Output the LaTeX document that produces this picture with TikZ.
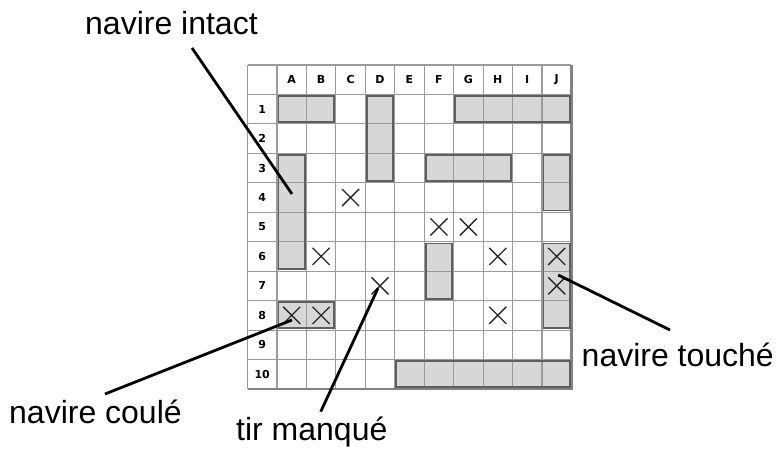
\documentclass[tikz,border=0pt]{standalone}
\usepackage{fontspec}
\setmainfont{Liberation Sans}
\newfontfamily\gridfont{DejaVu Sans}
\definecolor{gridgray}{RGB}{155,155,155}
\definecolor{framegray}{RGB}{130,130,130}
\definecolor{shipfill}{RGB}{215,215,215}
\definecolor{shipedge}{RGB}{95,95,95}
\definecolor{crossgray}{RGB}{40,40,40}
\begin{document}
\begin{tikzpicture}[x=1pt,y=-1pt,
  gridline/.style={gridgray,line width=1.1pt},
  shipbox/.style={shipedge,line width=1.8pt},
  shot/.style={crossgray,line width=1.3pt},
  headlbl/.style={inner sep=0pt,font=\gridfont\bfseries\fontsize{11}{13}\selectfont},
  callout/.style={inner sep=0pt,anchor=base west,font=\fontsize{32}{38}\selectfont},
  leader/.style={black,line width=2.8pt}]
\useasboundingbox (0,0) rectangle (778,449);
\def\shiplist{1/1/2/1, 4/1/1/3, 7/1/4/1, 1/3/1/4, 6/3/3/1, 10/3/1/2, 6/6/1/2, 10/6/1/3, 1/8/2/1, 5/10/6/1}
\begin{scope}[shift={(247.5,65)},x=29.45pt,y=-29.45pt]
 % ships, filled under the grid
 \foreach \c/\r/\w/\h in \shiplist
    \fill[shipfill] (\c+0.05,\r+0.06) rectangle (\c+\w-0.05,\r+\h-0.06);
 % grid
 \foreach \i in {0,...,11} {
    \draw[gridline] (\i,0) -- (\i,11);
    \draw[gridline] (0,\i) -- (11,\i);
 }
 \draw[framegray,line width=2.2pt] (0,11) -- (11,11) -- (11,0);
 \foreach \c/\r/\w/\h in \shiplist
    \draw[shipbox] (\c+0.05,\r+0.06) rectangle (\c+\w-0.05,\r+\h-0.06);
 % column and row labels
 \foreach \l [count=\i] in {A,B,C,D,E,F,G,H,I,J}
    \node[headlbl] (col\l) at (\i+0.5,0.5) {\l};
 \foreach \r in {1,...,10}
    \node[headlbl] (row\r) at (0.5,\r+0.5) {\r};
 % shots
 \foreach \c/\r in {3/4, 6/5, 7/5, 2/6, 8/6, 10/6, 4/7, 10/7, 1/8, 2/8, 8/8}
    \draw[shot] (\c+0.21,\r+0.21) -- (\c+0.79,\r+0.79) (\c+0.79,\r+0.21) -- (\c+0.21,\r+0.79);
 \coordinate (intactA4) at (1.51,4.38);
 \coordinate (couleA8) at (1.51,8.66);
 \coordinate (manqueD7) at (4.43,7.58);
 \coordinate (toucheJ7) at (10.55,7.13);
\end{scope}
\node[callout] (intact) at (85,35) {navire intact};
\node[callout] (touche) at (581.5,366) {navire touché};
\node[callout] (coule) at (9,423) {navire coulé};
\node[callout] (manque) at (236,440) {tir manqué};
\coordinate (intactfoot) at (192,48);
\coordinate (touchefoot) at (670,330);
\coordinate (coulefoot) at (105,394);
\coordinate (manquefoot) at (320.7,411.7);
\draw[leader] (intactfoot) -- (intactA4);
\draw[leader] (touchefoot) -- (toucheJ7);
\draw[leader] (coulefoot) -- (couleA8);
\draw[leader] (manquefoot) -- (manqueD7);
\end{tikzpicture}
\end{document}
